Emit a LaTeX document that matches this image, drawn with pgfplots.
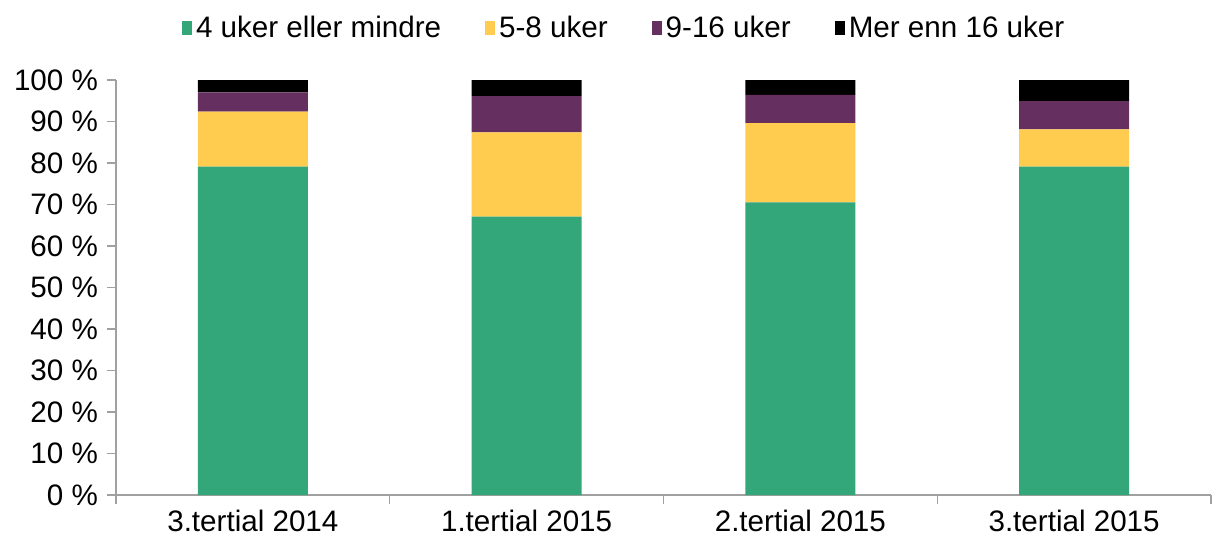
\documentclass[border=0pt]{standalone}
\usepackage{pgfplots}
\pgfplotsset{compat=1.18}
\usepackage{fontspec}
\setmainfont{Liberation Sans}
\definecolor{cgreen}{HTML}{33A77A}
\definecolor{cyellow}{HTML}{FFCC4F}
\definecolor{cpurple}{HTML}{652F60}
\definecolor{caxis}{HTML}{A0A0A0}
\begin{document}
\begin{tikzpicture}
\useasboundingbox (-58pt,-24pt) rectangle (548pt,247.5pt);
\begin{axis}[
  scale only axis,
  width=547.5pt, height=207.5pt,
  at={(0pt,0pt)}, anchor=south west,
  ybar stacked,
  bar width=55pt,
  xmin=-0.5, xmax=3.5,
  ymin=0, ymax=100,
  xtick={-0.5,0.5,1.5,2.5,3.5},
  xticklabels={},
  extra x ticks={0,1,2,3},
  extra x tick labels={3.tertial 2014,1.tertial 2015,2.tertial 2015,3.tertial 2015},
  extra x tick style={major tick length=0pt, tick label style={font=\fontsize{14.8pt}{17pt}\selectfont, yshift=-4pt}},
  ytick={0,10,...,100},
  yticklabel={\pgfmathprintnumber{\tick}~\%},
  /pgf/number format/assume math mode=true,
  y tick label style={font=\fontsize{14.8pt}{17pt}\selectfont, xshift=-1pt},
  tick style={caxis, line width=0.6pt},
  major tick length=4.5pt,
  tick align=outside,
  xtick pos=bottom, ytick pos=left,
  axis x line*=bottom, axis y line*=left,
  axis line style={caxis, line width=0.6pt, -},
  legend style={at={(0.465,1.0)}, anchor=center, yshift=26pt, draw=none, fill=none,
    legend columns=4, font=\fontsize{14.8pt}{17pt}\selectfont,
    /tikz/every even column/.append style={column sep=20pt}},
  legend image code/.code={\fill[#1] (1pt,-3.5pt) rectangle (6pt,3.5pt);},
  clip=false,
]
\addplot[fill=cgreen, draw=none] coordinates {(0,79.1) (1,67.1) (2,70.5) (3,79.1)};
\addplot[fill=cyellow, draw=none] coordinates {(0,13.3) (1,20.3) (2,19.1) (3,9.0)};
\addplot[fill=cpurple, draw=none] coordinates {(0,4.6) (1,8.7) (2,6.8) (3,6.8)};
\addplot[fill=black, draw=none] coordinates {(0,3.0) (1,3.9) (2,3.6) (3,5.1)};
\legend{4 uker eller mindre, 5-8 uker, 9-16 uker, Mer enn 16 uker}
\end{axis}
\end{tikzpicture}
\end{document}
